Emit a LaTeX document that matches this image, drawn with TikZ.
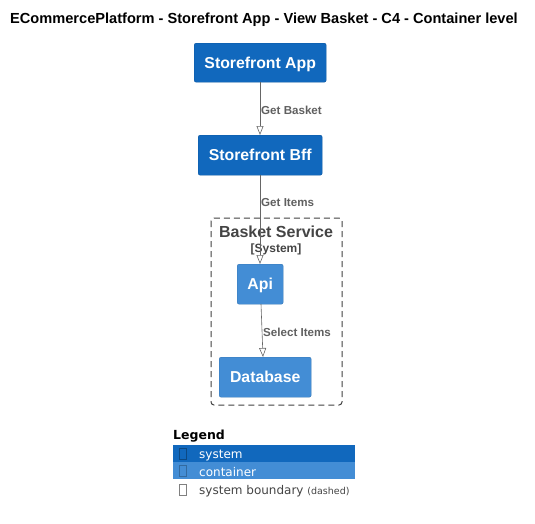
\documentclass[tikz,border=0pt]{standalone}
\usepackage{fontspec}
\setmainfont{Liberation Sans}
\newfontfamily\legfont{DejaVu Sans}
\usetikzlibrary{arrows.meta}
\definecolor{sysblue}{HTML}{1168BD}
\definecolor{contblue}{HTML}{438DD5}
\definecolor{lblgray}{HTML}{606060}
\definecolor{bndgray}{HTML}{444444}
\tikzset{
  sysbox/.style={draw=sysblue!85!black, fill=sysblue, rounded corners=2pt, text=white, font=\bfseries\fontsize{15.8}{18}\selectfont, inner sep=0pt, anchor=north west, text height=11.4pt, text depth=0pt},
  contbox/.style={draw=contblue!85!black, fill=contblue, rounded corners=2pt, text=white, font=\bfseries\fontsize{15.8}{18}\selectfont, inner sep=0pt, anchor=north west, text height=11.4pt, text depth=0pt},
  rel/.style={draw=gray!80!black, line width=0.6pt, -{Triangle[open, width=7pt, length=9pt, fill=white]}},
  rellbl/.style={text=lblgray, font=\bfseries\fontsize{11.6}{13}\selectfont, anchor=west, inner sep=0pt},
  legrow/.style={anchor=north west, inner sep=0pt, minimum width=182pt, minimum height=17pt},
  legtxt/.style={anchor=west, inner sep=0pt, font=\legfont\fontsize{12}{14}\selectfont},
  legicon/.style={draw, minimum width=7pt, minimum height=11pt, inner sep=0pt},
}
\begin{document}
\begin{tikzpicture}[x=1pt,y=-1pt]
\useasboundingbox (0,0) rectangle (535,523);
\node[font=\bfseries\fontsize{14.6}{16}\selectfont, anchor=center] (title) at (264,20) {ECommercePlatform - Storefront App - View Basket - C4 - Container level};

% boundary
\draw[dash pattern=on 6pt off 4pt, draw=black!75, line width=1pt, rounded corners=3pt] (211,218) rectangle (342,405);
\node[font=\bfseries\fontsize{16}{18}\selectfont, text=bndgray] (bndname) at (276,232) {Basket Service};
\node[font=\bfseries\fontsize{12}{14}\selectfont, text=bndgray] (bndtype) at (276,249) {[System]};

\node[sysbox, minimum width=132pt, minimum height=39pt] (app) at (194,43) {Storefront App};
\node[sysbox, minimum width=124pt, minimum height=40pt] (bff) at (198,135) {Storefront Bff};
\node[contbox, minimum width=46pt, minimum height=40pt] (api) at (237,264) {Api};
\node[contbox, minimum width=92pt, minimum height=40pt] (db) at (219,357) {Database};

\coordinate (appb) at (260,82);
\coordinate (bfft) at (260,135);
\coordinate (bffb) at (260,175);
\coordinate (apit) at (260,264);
\coordinate (apib) at (261,304);
\coordinate (dbt) at (263,357);
\draw[rel] (appb) -- (bfft);
\draw[rel] (bffb) -- (apit);
\draw[rel] (apib) -- (dbt);
\node[rellbl] (l1) at (261,110) {Get Basket};
\node[rellbl] (l2) at (261,203) {Get Items};
\node[rellbl] (l3) at (263,332) {Select Items};

% legend
\node[anchor=west, inner sep=0pt, font=\legfont\bfseries\fontsize{12.5}{14}\selectfont] (legend) at (173,436) {Legend};
\node[legrow, fill=sysblue] (r1) at (173,445) {};
\node[legrow, fill=contblue] (r2) at (173,462) {};
\node[legicon, draw=sysblue!70!black] (i1) at (183,454) {};
\node[legicon, draw=contblue!75!black] (i2) at (183,471) {};
\node[legicon, draw=gray] (i3) at (183,490) {};
\node[legtxt, text=white] (t1) at (199,455.5) {system};
\node[legtxt, text=white] (t2) at (199,472.5) {container};
\node[legtxt, text=bndgray] (t3) at (199,491) {system boundary {\fontsize{9.5}{11}\selectfont(dashed)}};
\end{tikzpicture}
\end{document}
